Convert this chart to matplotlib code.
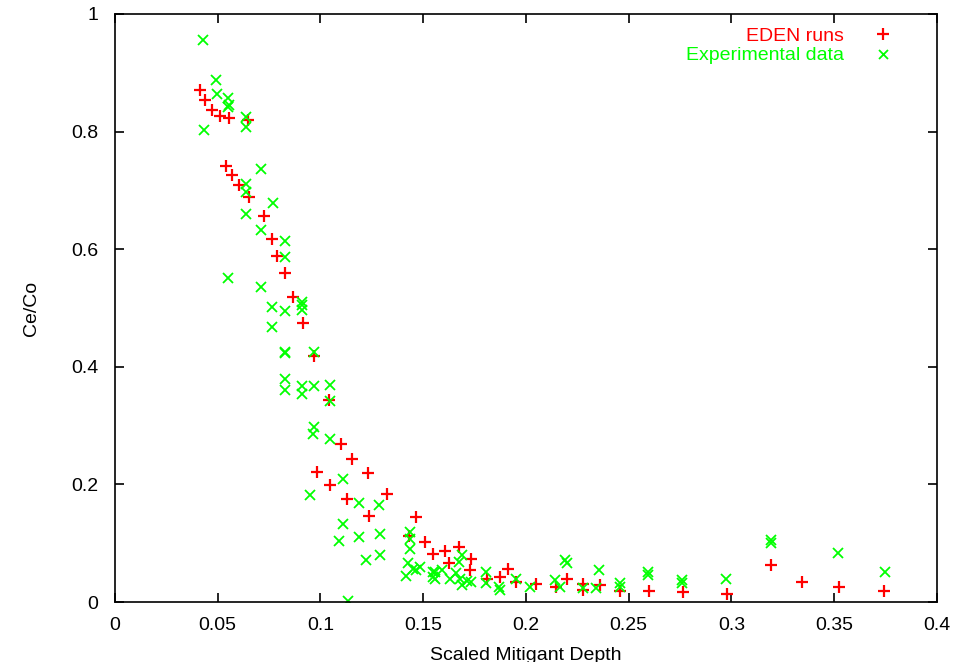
import matplotlib
matplotlib.use("Agg")
import matplotlib.pyplot as plt

plt.rcParams['font.family'] = ['Liberation Sans', 'DejaVu Sans']

# EDEN runs (red +)
eden_x = [0.0414, 0.044, 0.047, 0.051, 0.0555, 0.0647,
          0.0539, 0.0568, 0.0605, 0.0653, 0.0725, 0.0762, 0.0791, 0.0827,
          0.0868, 0.0913, 0.097, 0.1043, 0.1098, 0.1156, 0.0985, 0.1233,
          0.1046, 0.1325, 0.113, 0.1238, 0.1463, 0.1432, 0.1511, 0.1549,
          0.1606, 0.1676, 0.1627, 0.1735, 0.1727, 0.1914, 0.1873, 0.181,
          0.1954, 0.205, 0.2198, 0.2146, 0.2279, 0.228, 0.2363, 0.2457,
          0.2599, 0.2766, 0.298, 0.3195, 0.3346, 0.3524, 0.3744]
eden_y = [0.871, 0.854, 0.837, 0.827, 0.823, 0.820,
          0.742, 0.726, 0.710, 0.689, 0.656, 0.617, 0.588, 0.560,
          0.519, 0.474, 0.418, 0.3435, 0.269, 0.244, 0.2205, 0.219,
          0.199, 0.184, 0.176, 0.147, 0.144, 0.113, 0.1015, 0.0816,
          0.0873, 0.093, 0.067, 0.0726, 0.0544, 0.0556, 0.042, 0.0386,
          0.0346, 0.0306, 0.0386, 0.025, 0.0306, 0.0204, 0.029, 0.0187,
          0.019, 0.0176, 0.0136, 0.063, 0.0335, 0.026, 0.019]

# Experimental data (green x)
exp_x = [0.043, 0.049, 0.0495, 0.0552, 0.0557, 0.0552, 0.064, 0.064, 0.0433,
         0.0709, 0.064, 0.064, 0.077, 0.064, 0.0709, 0.083, 0.0827, 0.0552,
         0.0713, 0.0911, 0.0908, 0.0766, 0.0827, 0.0911, 0.0766, 0.0827,
         0.0827, 0.097, 0.0827, 0.0827, 0.0911, 0.0911, 0.097, 0.1046, 0.097,
         0.1046, 0.0965, 0.1046, 0.111, 0.0949, 0.1187, 0.1285, 0.111, 0.1091,
         0.1189, 0.1292, 0.1221, 0.1292, 0.1435, 0.1435, 0.1435, 0.1427,
         0.1452, 0.1484, 0.1465, 0.1416, 0.155, 0.155, 0.1135, 0.1557, 0.1557,
         0.159, 0.163, 0.1679, 0.169, 0.1676, 0.166, 0.1711, 0.1687, 0.1735,
         0.1808, 0.1808, 0.187, 0.1873, 0.1951, 0.202, 0.214, 0.2165, 0.219,
         0.2198, 0.228, 0.2357, 0.2343, 0.2457, 0.2457, 0.2595, 0.2595,
         0.2762, 0.2762, 0.2976, 0.3195, 0.3195, 0.352, 0.3747]
exp_y = [0.955, 0.888, 0.864, 0.857, 0.845, 0.841, 0.824, 0.807, 0.803,
         0.736, 0.711, 0.698, 0.679, 0.660, 0.633, 0.6145, 0.586, 0.5505,
         0.535, 0.505, 0.5107, 0.501, 0.495, 0.4966, 0.467, 0.4257,
         0.423, 0.4257, 0.380, 0.3605, 0.367, 0.354, 0.367, 0.369, 0.298,
         0.3425, 0.2857, 0.278, 0.21, 0.182, 0.168, 0.165, 0.1327, 0.104,
         0.11, 0.1156, 0.0714, 0.08, 0.1196, 0.108, 0.091, 0.067,
         0.057, 0.06, 0.054, 0.044, 0.0516, 0.043, 0.002, 0.0516, 0.04,
         0.054, 0.04, 0.040, 0.08, 0.0686, 0.0488, 0.0363, 0.029, 0.0346,
         0.0516, 0.0318, 0.026, 0.0204, 0.0386, 0.025, 0.0374, 0.025, 0.0714,
         0.067, 0.023, 0.054, 0.023, 0.033, 0.026, 0.0516, 0.046,
         0.0374, 0.0318, 0.040, 0.1054, 0.0998, 0.083, 0.0516]

xticks = [0, 0.05, 0.1, 0.15, 0.2, 0.25, 0.3, 0.35, 0.4]
xticklabels = ["0", "0.05", "0.1", "0.15", "0.2", "0.25", "0.3", "0.35", "0.4"]
yticks = [0, 0.2, 0.4, 0.6, 0.8, 1]
yticklabels = ["0", "0.2", "0.4", "0.6", "0.8", "1"]

RED = '#ff0000'
GREEN = '#00ff00'

fig = plt.figure(figsize=(9.54, 6.62), dpi=100)
ax = fig.add_axes([0.1205, 0.0906, 0.8615, 0.8883])

ax.plot(eden_x, eden_y, linestyle='none', marker='+', markersize=9,
        markeredgewidth=1.6, color=RED, label='EDEN runs')
ax.plot(exp_x, exp_y, linestyle='none', marker='x', markersize=7.2,
        markeredgewidth=1.3, color=GREEN, label='Experimental data')

ax.set_xlim(0, 0.4)
ax.set_ylim(0, 1)
ax.set_xticks(xticks)
ax.set_xticklabels(xticklabels)
ax.set_yticks(yticks)
ax.set_yticklabels(yticklabels)
ax.tick_params(direction='in', length=6.5, width=1.2, top=True, right=True,
               labelsize=14)
ax.tick_params(axis='x', pad=11)
ax.tick_params(axis='y', pad=12)
for s in ax.spines.values():
    s.set_linewidth(1.2)

ax.set_xlabel('Scaled Mitigant Depth', fontsize=14, labelpad=9)
ax.set_ylabel('Ce/Co', fontsize=14, labelpad=22)

leg = ax.legend(loc='upper right', bbox_to_anchor=(0.9556, 0.99),
                borderaxespad=0, frameon=False, markerfirst=False,
                fontsize=14, labelcolor=[RED, GREEN], handlelength=1.0,
                handletextpad=1.5, labelspacing=0.08, markerscale=0.9)

fig.savefig('out.png', dpi=100)
